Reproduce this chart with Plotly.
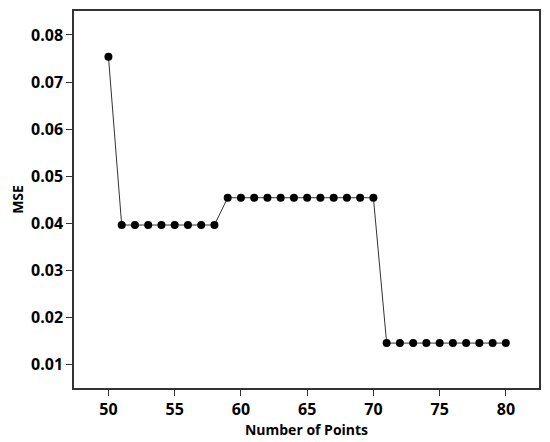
import plotly.graph_objects as go

# number of points vs MSE
n_points = list(range(50, 81))
mse = [0.0754] + [0.0396] * 8 + [0.0454] * 12 + [0.0145] * 10
x_ticks = [50, 55, 60, 65, 70, 75, 80]
y_ticks = [0.01, 0.02, 0.03, 0.04, 0.05, 0.06, 0.07, 0.08]

fig = go.Figure()
fig.add_trace(go.Scatter(x=n_points, y=mse, mode='lines+markers',
                         line=dict(color='#333333', width=1),
                         marker=dict(color='black', size=8),
                         showlegend=False))

axis_font = dict(family='Open Sans', size=16, color='black')
# page body adds an 8px offset, so the figure is sized to fit inside the window
fig.update_layout(
    width=542, height=434,
    margin=dict(l=64, r=11, t=1, b=54),
    plot_bgcolor='white', paper_bgcolor='white',
    font=dict(family='Open Sans', color='black'),
    xaxis=dict(range=[47.4, 82.5], tickvals=x_ticks,
               ticktext=['<b>%d</b>' % v for v in x_ticks],
               showline=True, linecolor='#333333', linewidth=1.5, mirror=True,
               ticks='outside', ticklen=6, tickcolor='#333333', showgrid=False, zeroline=False,
               tickfont=axis_font,
               title=dict(text='<b>Number of Points</b>', font=dict(size=14, color='black'), standoff=4)),
    yaxis=dict(range=[0.00495, 0.0851], tickvals=y_ticks,
               ticktext=['<b>%.2f</b>' % v for v in y_ticks],
               showline=True, linecolor='#333333', linewidth=1.5, mirror=True,
               ticks='outside', ticklen=6, tickcolor='#333333', showgrid=False, zeroline=False,
               tickfont=axis_font,
               title=dict(text='<b>MSE</b>', font=dict(size=14, color='black'), standoff=12)),
)

fig.write_html("out.html")
